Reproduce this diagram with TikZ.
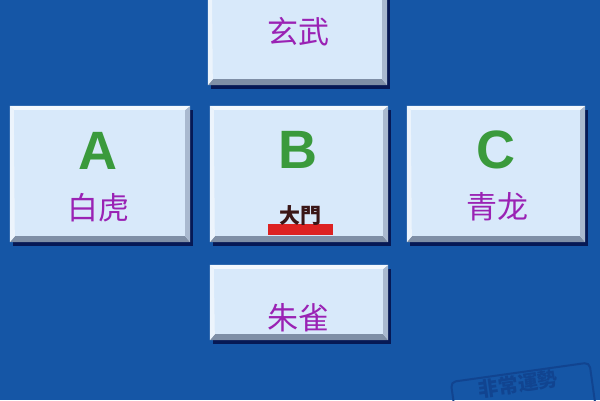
\documentclass[tikz,border=0pt]{standalone}
\usepackage{fontspec}
\setmainfont{Liberation Sans}
\newfontfamily\cjk{Noto Sans CJK SC}
\usetikzlibrary{shadows,calc}
\definecolor{bg}{HTML}{1556A6}
\definecolor{tilefill}{HTML}{D8E9FA}
\definecolor{tilebot}{HTML}{7F8FA6}
\definecolor{tileright}{HTML}{A9B9CF}
\definecolor{lettergreen}{HTML}{3A9A3C}
\definecolor{labelpurple}{HTML}{9A22B4}
\definecolor{gatered}{HTML}{DD2222}
\definecolor{gatetext}{HTML}{3A1616}
\definecolor{wmark}{HTML}{114490}
\tikzset{
  tile/.style={draw=none, fill=tilefill, inner sep=0pt,
    drop shadow={shadow xshift=3pt, shadow yshift=-4pt, opacity=0.7, fill=black!80!blue}},
  letter/.style={text=lettergreen, font=\fontsize{54}{54}\selectfont\bfseries, inner sep=0pt},
  label/.style={text=labelpurple, font=\cjk\fontsize{31}{31}\selectfont, inner sep=0pt},
}
\begin{document}
\begin{tikzpicture}[x=1pt,y=-1pt]
\fill[bg] (0,0) rectangle (600,400);
\useasboundingbox (0,0) rectangle (600,400);
% tiles
\node[tile, minimum width=179pt, minimum height=110pt] (xw) at (297.5,30) {};
\node[tile, minimum width=180pt, minimum height=136pt] (ta) at (100,174) {};
\node[tile, minimum width=178pt, minimum height=136pt] (tb) at (299,174) {};
\node[tile, minimum width=178pt, minimum height=136pt] (tc) at (496,174) {};
\node[tile, minimum width=178pt, minimum height=75pt] (zq) at (299,302.5) {};
% bevels
\foreach \n in {xw,ta,tb,tc,zq}{
  \fill[tilebot] (\n.south west) -- (\n.south east) -- ([xshift=-5pt,yshift=6pt]\n.south east) -- ([xshift=5pt,yshift=6pt]\n.south west) -- cycle;
  \fill[tileright] (\n.north east) -- (\n.south east) -- ([xshift=-5pt,yshift=6pt]\n.south east) -- ([xshift=-5pt,yshift=-4pt]\n.north east) -- cycle;
  \fill[white!70!tilefill] (\n.north west) -- (\n.north east) -- ([xshift=-5pt,yshift=-4pt]\n.north east) -- ([xshift=4pt,yshift=-4pt]\n.north west) -- cycle;
  \fill[white!50!tilefill] (\n.north west) -- (\n.south west) -- ([xshift=5pt,yshift=6pt]\n.south west) -- ([xshift=4pt,yshift=-4pt]\n.north west) -- cycle;
}
% texts
\node[label] (lxw) at (298,32) {玄武};
\node[letter] (la) at (98,151) {A};
\node[label] (baihu) at (98,208) {白虎};
\node[letter] (lb) at (298,150) {B};
\node[fill=gatered, minimum width=65pt, minimum height=11pt, inner sep=0pt] (bar) at (300.5,229) {};
\node[text=gatetext, font=\cjk\fontsize{21}{21}\selectfont\bfseries, inner sep=0pt] (damen) at (300,216) {大門};
\node[letter] (lc) at (496,150) {C};
\node[label] (qinglong) at (497,207) {青龙};
\node[label] (zhuque) at (298,318) {朱雀};
% watermark
\node[draw=wmark, line width=2pt, rounded corners=5pt, rotate=8, minimum width=140pt, minimum height=56pt] (wmbox) at (524,400) {};
\node[text=wmark, rotate=8, inner sep=0pt, font=\cjk\fontsize{20}{20}\selectfont\bfseries] (wm) at (518,384) {非常運勢};
\end{tikzpicture}
\end{document}
